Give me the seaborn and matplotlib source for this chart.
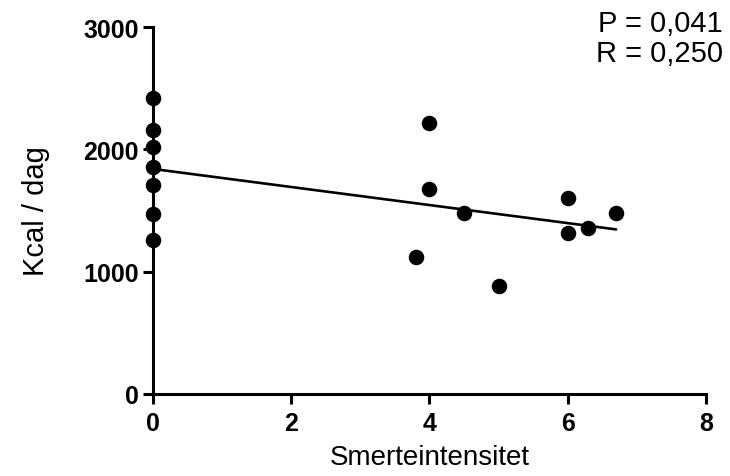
import numpy as np
import pandas as pd
import matplotlib
matplotlib.use('Agg')
import matplotlib.pyplot as plt
import seaborn as sns

# data
pain = [0, 0, 0, 0, 0, 0, 0, 3.8, 4, 4, 4.5, 5, 6, 6, 6.3, 6.7]
kcal = [2420, 2160, 2020, 1855, 1710, 1470, 1260,
        1120, 2215, 1675, 1480, 885, 1600, 1320, 1355, 1480]
x_ticks = [0, 2, 4, 6, 8]
y_ticks = [0, 1000, 2000, 3000]
stats_text = 'P = 0,041\nR = 0,250'

df = pd.DataFrame({'Smerteintensitet': pain, 'Kcal': kcal})

sns.set_style('ticks')
plt.rcParams['font.family'] = ['Liberation Sans', 'DejaVu Sans']
plt.rcParams['text.color'] = 'black'
plt.rcParams['axes.labelcolor'] = 'black'
plt.rcParams['xtick.color'] = 'black'
plt.rcParams['ytick.color'] = 'black'

fig = plt.figure(figsize=(7.3, 4.77), dpi=100)
ax = fig.add_axes([0.2096, 0.172, 0.7575, 0.769])

sns.regplot(data=df, x='Smerteintensitet', y='Kcal', ci=None, ax=ax,
            scatter_kws={'s': 125, 'color': 'black', 'clip_on': False,
                         'zorder': 4, 'linewidths': 0, 'alpha': 1},
            line_kws={'color': 'black', 'lw': 1.9, 'zorder': 3})

ax.set_xlim(0, 8)
ax.set_ylim(0, 3000)
ax.set_xticks(x_ticks)
ax.set_yticks(y_ticks)
sns.despine(ax=ax)
for s in ['left', 'bottom']:
    ax.spines[s].set_linewidth(2.2)
    ax.spines[s].set_color('black')
ax.tick_params(axis='both', direction='out', length=7, width=2.2,
               labelsize=18, color='black', labelcolor='black')
ax.tick_params(axis='y', pad=3)
ax.tick_params(axis='x', pad=5)
for lab in ax.get_xticklabels() + ax.get_yticklabels():
    lab.set_fontweight('bold')

ax.set_xlabel('Smerteintensitet', fontsize=20, labelpad=7)
ax.set_ylabel('Kcal / dag', fontsize=21, labelpad=24)

fig.text(0.99, 0.98, stats_text, ha='right', va='top', fontsize=21,
         linespacing=1.12)

fig.savefig('out.png', dpi=100)
